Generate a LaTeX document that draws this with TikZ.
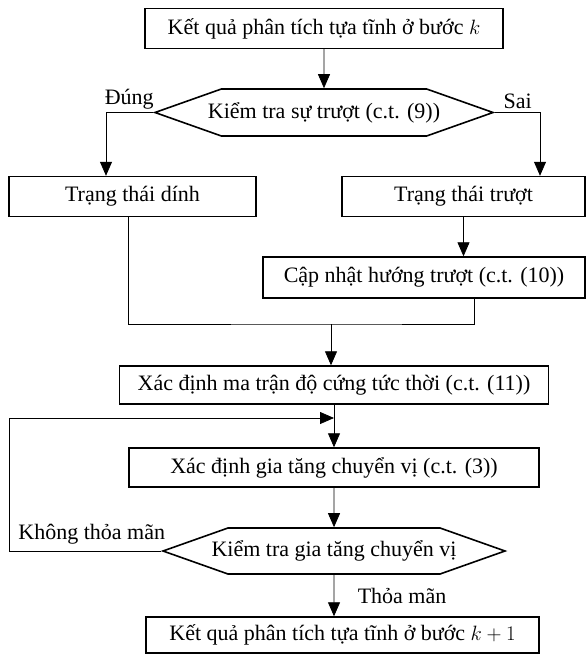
\documentclass[tikz,border=0pt]{standalone}
\usepackage{amsmath}
\usepackage{fontspec}
\setmainfont{Liberation Serif}
\usetikzlibrary{arrows.meta,shapes.symbols}

\begin{document}
\begin{tikzpicture}[x=1pt, y=-1pt, font=\fontsize{22}{25}\selectfont,
    box/.style={draw, line width=1.4pt, minimum height=40pt, inner sep=2pt},
    test/.style={signal, signal to=west and east, signal pointer angle=39,
        draw, line width=1.6pt, minimum height=47pt, inner ysep=1pt, inner xsep=-30pt},
    line/.style={line width=.8pt},
    arr/.style={line, -{Triangle[length=14pt,width=12pt]}}]
            \useasboundingbox (0,0) rectangle (587,655);

            % Draw the boxes
            \node[box, minimum width=358pt] (start) at (324,28.5) {Kết quả phân tích tựa tĩnh ở bước $k$};
            \node[test, minimum width=338pt] (chk1) at (324,112.5) {Kiểm tra sự trượt (c.t. (9))};
            \node[box, minimum width=247pt] (stick) at (132.5,196.5) {Trạng thái dính};
            \node[box, minimum width=243pt] (slip) at (463.5,196.5) {Trạng thái trượt};
            \node[box, minimum width=322pt, minimum height=41pt] (upd) at (424,277.5) {Cập nhật hướng trượt (c.t. (10))};
            \node[box, minimum width=429pt, minimum height=38pt] (stiff) at (334,385) {Xác định ma trận độ cứng tức thời (c.t. (11))};
            \node[box, minimum width=410pt, minimum height=39pt] (incr) at (334,467.5) {Xác định gia tăng chuyển vị (c.t. (3))};
            \node[test, minimum width=342pt, minimum height=46pt] (chk2) at (334,551) {Kiểm tra gia tăng chuyển vị};
            \node[box, minimum width=393pt, minimum height=36pt] (final) at (342.5,635) {Kết quả phân tích tựa tĩnh ở bước $k+1$};
            \coordinate (join) at (331,324);
            \coordinate (back) at (9,418);

            % Connect the boxes with arrows
            \draw[arr] (start) -- (chk1);
            \draw[arr] (chk1.west) -| ([xshift=-26.5pt]stick.north) node[pos=.25, above] {Đúng};
            \draw[arr] (chk1.east) -| ([xshift=76.5pt]slip.north) node[pos=.25, above] {Sai};
            \draw[arr] (slip) -- (slip |- upd.north);
            \draw[line] ([xshift=-4.5pt]stick.south) |- (join) -| ([xshift=50pt]upd.south);
            \draw[arr] (join) -- (join |- stiff.north);
            \draw[arr] (stiff) -- (incr);
            \draw[arr] (chk2.west) -| (back) node[pos=.25, above, xshift=7pt, yshift=3pt] {Không thỏa mãn}
                -- (back -| incr.north);
            \draw[arr] (incr) -- (chk2);
            \draw[arr] (chk2) -- (chk2 |- final.north) node[midway, right, xshift=20pt] {Thỏa mãn};
\end{tikzpicture}
\end{document}
